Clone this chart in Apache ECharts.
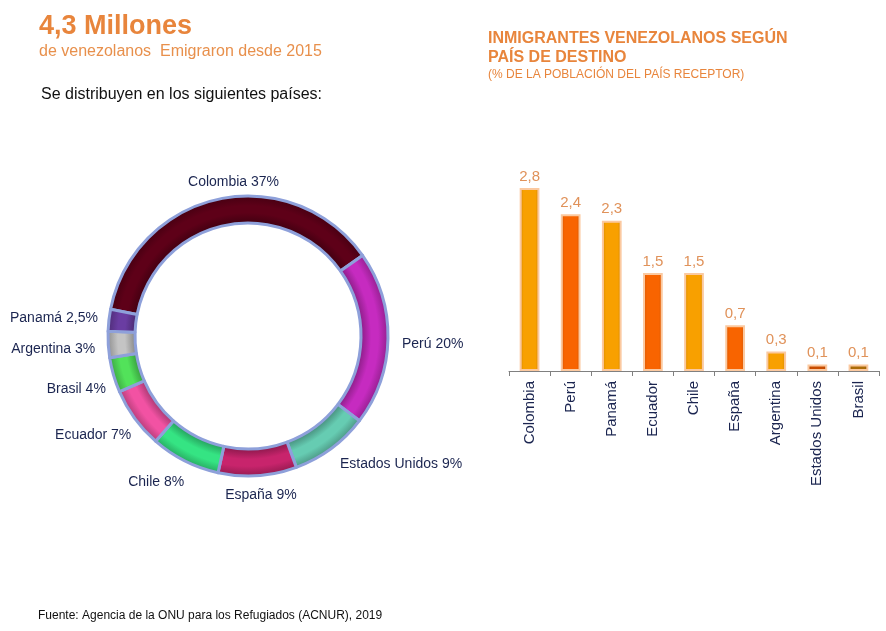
<!DOCTYPE html>
<html>
<head>
<meta charset="utf-8">
<script src="https://cdn.jsdelivr.net/npm/echarts@6/dist/echarts.min.js"></script>
<style>
  html, body { margin: 0; padding: 0; background: #fff; }
  #main { width: 886px; height: 631px; }
</style>
</head>
<body>
<div id="main"></div>
<script>
// datos del anillo: distribución de emigrantes (%)
var pieNames = ['Colombia', 'Perú', 'Estados Unidos', 'España', 'Chile', 'Ecuador', 'Brasil', 'Argentina', 'Panamá'];
var pieValues = [37, 20, 9, 9, 8, 7, 4, 3, 2.5];

// datos de barras: % de la población del país receptor
var barNames = ['Colombia', 'Perú', 'Panamá', 'Ecuador', 'Chile', 'España', 'Argentina', 'Estados Unidos', 'Brasil'];
var barValues = [2.8, 2.4, 2.3, 1.5, 1.5, 0.7, 0.3, 0.1, 0.1];

// colores
var pieColors = ['#5E0018', '#C62BC0', '#66CCB2', '#C8246C', '#35E483', '#F252A3', '#52E25A', '#C4C4C4', '#6A3DA2'];
var barColors = ['#F8A000', '#F86400', '#F8A000', '#F86400', '#F8A000', '#F86400', '#F8A000', '#C84C00', '#AC6C08'];

// ajuste fino de las etiquetas del anillo [dx, dy]
var pieLabelShift = [[67, -9], [1, 5], [-1, 9], [-38, 11], [8, 14], [8, 12], [5, 12], [0, 4], [2, -1]];

var FONT = 'Arial, "Liberation Sans", sans-serif';

function coma(v) {
    return String(v).replace('.', ',');
}

// oscurece un color hex
function shade(hex, f) {
    var n = parseInt(hex.slice(1), 16);
    var r = Math.round(((n >> 16) & 255) * f);
    var g = Math.round(((n >> 8) & 255) * f);
    var b = Math.round((n & 255) * f);
    return 'rgb(' + r + ',' + g + ',' + b + ')';
}

var cx = 248, cy = 336, rIn = 113, rOut = 140;

var chart = echarts.init(document.getElementById('main'));
var option = {
    backgroundColor: '#fff',
    animation: false,
    title: [
        {
            text: '4,3 Millones', left: 39, top: 13, padding: 0,
            textStyle: { color: '#E8853C', fontSize: 27, fontWeight: 'bold', fontFamily: FONT }
        },
        {
            text: 'de venezolanos  Emigraron desde 2015', left: 39, top: 44, padding: 0,
            textStyle: { color: '#E8904C', fontSize: 16, fontWeight: 'normal', fontFamily: FONT }
        },
        {
            text: 'Se distribuyen en los siguientes países:', left: 41, top: 87, padding: 0,
            textStyle: { color: '#111', fontSize: 16, fontWeight: 'normal', fontFamily: FONT }
        },
        {
            text: 'INMIGRANTES VENEZOLANOS SEGÚN\nPAÍS DE DESTINO', left: 488, top: 29, padding: 0,
            textStyle: { color: '#E8853C', fontSize: 16, fontWeight: 'bold', lineHeight: 19, fontFamily: FONT }
        },
        {
            text: '(% DE LA POBLACIÓN DEL PAÍS RECEPTOR)', left: 488, top: 69, padding: 0,
            textStyle: { color: '#E8853C', fontSize: 12, fontWeight: 'normal', fontFamily: FONT }
        },
        {
            text: 'Fuente: Agencia de la ONU para los Refugiados (ACNUR), 2019', left: 38, top: 610, padding: 0,
            textStyle: { color: '#111', fontSize: 12, fontWeight: 'normal', fontFamily: FONT }
        }
    ],
    grid: { left: 509, right: 7, top: 175, bottom: 260 },
    xAxis: {
        type: 'category',
        data: barNames,
        axisLine: { lineStyle: { color: '#808080', width: 1 } },
        axisTick: { show: true, length: 5, lineStyle: { color: '#808080' } },
        axisLabel: { rotate: 90, margin: 10, color: '#1B2550', fontSize: 15, fontFamily: FONT }
    },
    yAxis: { type: 'value', min: 0, max: 3, show: false },
    series: [
        {
            type: 'pie',
            center: [cx, cy],
            radius: [rIn, rOut],
            startAngle: 169,
            clockwise: true,
            avoidLabelOverlap: false,
            data: pieNames.map(function (name, i) {
                var base = pieColors[i];
                return {
                    name: name,
                    value: pieValues[i],
                    itemStyle: {
                        color: {
                            type: 'radial', x: cx, y: cy, r: rOut, global: true,
                            colorStops: [
                                { offset: rIn / rOut, color: shade(base, 0.7) },
                                { offset: 0.88, color: base },
                                { offset: 0.93, color: base },
                                { offset: 1, color: shade(base, 0.75) }
                            ]
                        }
                    }
                };
            }),
            itemStyle: { borderColor: '#8EA0DA', borderWidth: 3 },
            label: {
                show: true,
                position: 'outside',
                color: '#1B2550',
                fontSize: 14,
                fontFamily: FONT,
                formatter: function (p) {
                    return p.name + ' ' + coma(p.value) + '%';
                }
            },
            labelLine: { show: false, length: 8, length2: 0 },
            labelLayout: function (p) {
                var s = pieLabelShift[p.dataIndex];
                return { dx: s[0], dy: s[1] };
            }
        },
        {
            type: 'bar',
            barWidth: '48%',
            data: barValues.map(function (v, i) {
                var base = barColors[i];
                return {
                    value: v,
                    itemStyle: {
                        color: {
                            type: 'linear', x: 0, y: 0, x2: 1, y2: 0,
                            colorStops: [
                                { offset: 0, color: shade(base, 0.84) },
                                { offset: 0.2, color: base },
                                { offset: 0.8, color: base },
                                { offset: 1, color: shade(base, 0.84) }
                            ]
                        }
                    }
                };
            }),
            itemStyle: { borderColor: '#FBC9A0', borderWidth: 2 },
            label: {
                show: true,
                position: 'top',
                distance: 4,
                color: '#E0925A',
                fontSize: 15,
                fontFamily: FONT,
                formatter: function (p) { return coma(p.value); }
            }
        }
    ]
};
chart.setOption(option);
</script>
</body>
</html>
